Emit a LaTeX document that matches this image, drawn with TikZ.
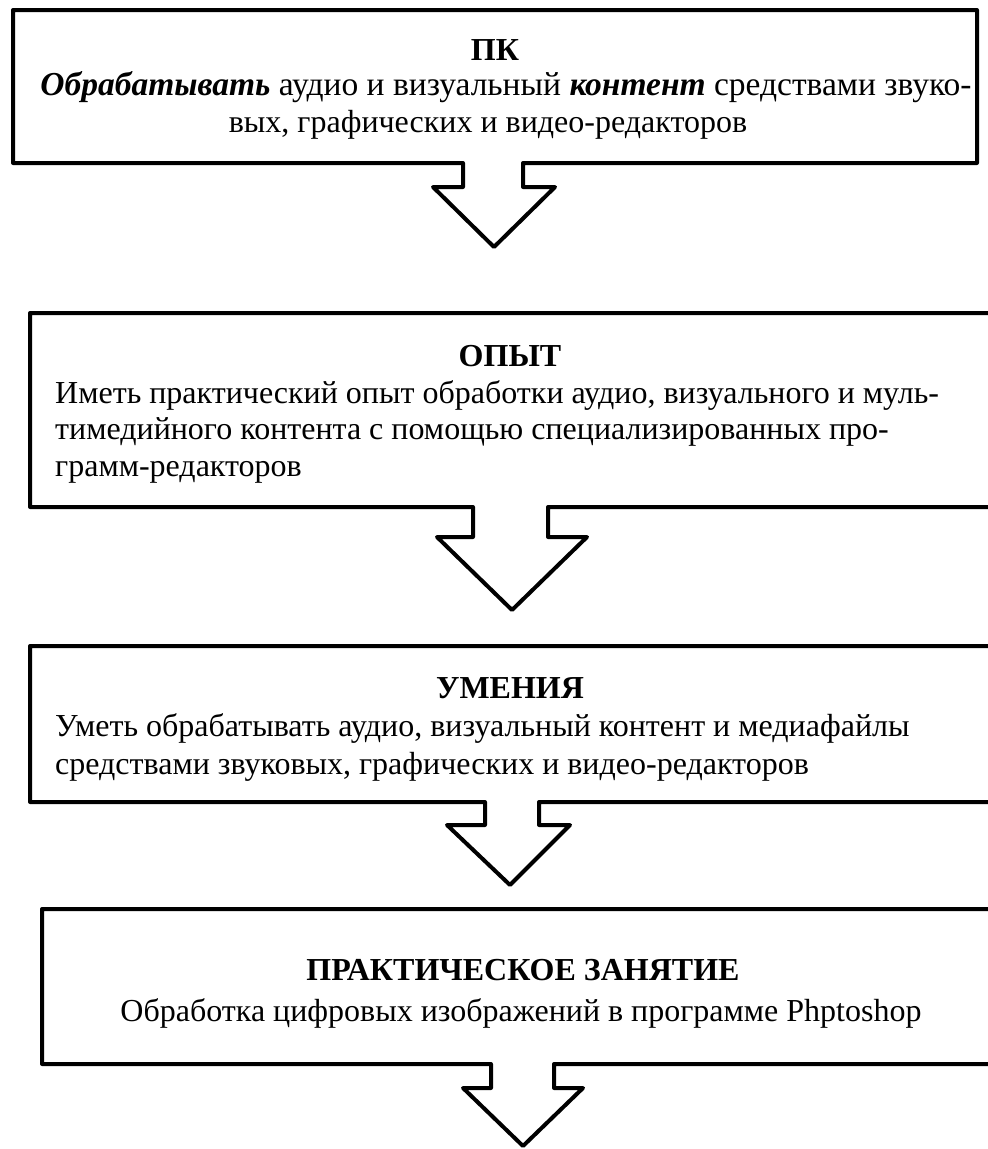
\documentclass[tikz,border=0pt]{standalone}
\usepackage{fontspec}
\setmainfont{Liberation Serif}
\begin{document}
\begin{tikzpicture}[x=1pt,y=-1pt,
  outline/.style={line width=4pt, line join=round, draw=black},
  ttl/.style={anchor=base, inner sep=0pt, font=\fontsize{32}{38}\selectfont\bfseries},
  bodyc/.style={anchor=base, inner sep=0pt, font=\fontsize{32}{38}\selectfont},
  bodyl/.style={anchor=base west, inner sep=0pt, font=\fontsize{32}{38}\selectfont}]
\useasboundingbox (0,0) rectangle (988,1149);
% Box 1
\draw[outline] (13,10) -- (977,10) -- (977,163) -- (523,163) -- (523,187) -- (555,187)
  -- (494,247) -- (433,187) -- (463,187) -- (463,163) -- (13,163) -- cycle;
\node[ttl] (t1) at (495,60) {ПК};
\node[bodyc, font=\fontsize{33.5}{38}\selectfont] (l11) at (506,95) {\textbf{\textit{Обрабатывать}} аудио и визуальный \textbf{\textit{контент}} средствами звуко-};
\node[bodyc] (l12) at (488,132) {вых, графических и видео-редакторов};
% Box 2
\draw[outline] (1010,313) -- (30,313) -- (30,507) -- (473,507) -- (473,537) -- (437,537)
  -- (512,610) -- (587,537) -- (548,537) -- (548,507) -- (1010,507);
\node[ttl] (t2) at (510,366) {ОПЫТ};
\node[bodyl] (l21) at (55,403) {Иметь практический опыт обработки аудио, визуального и муль-};
\node[bodyl] (l22) at (55,439) {тимедийного контента с помощью специализированных про-};
\node[bodyl] (l23) at (55,476) {грамм-редакторов};
% Box 3
\draw[outline] (1010,646) -- (30,646) -- (30,802) -- (485,802) -- (485,825) -- (447,825)
  -- (510,885) -- (570,825) -- (539,825) -- (539,802) -- (1010,802);
\node[ttl] (t3) at (510,698) {УМЕНИЯ};
\node[bodyl] (l31) at (55,736) {Уметь обрабатывать аудио, визуальный контент и медиафайлы};
\node[bodyl] (l32) at (55,774) {средствами звуковых, графических и видео-редакторов};
% Box 4
\draw[outline] (1010,909) -- (42,909) -- (42,1064) -- (491,1064) -- (491,1088) -- (463,1088)
  -- (523,1146) -- (583,1088) -- (554,1088) -- (554,1064) -- (1010,1064);
\node[ttl] (t4) at (523,980) {ПРАКТИЧЕСКОЕ ЗАНЯТИЕ};
\node[bodyc] (l41) at (521,1021) {Обработка цифровых изображений в программе Phptoshop};
\end{tikzpicture}
\end{document}
